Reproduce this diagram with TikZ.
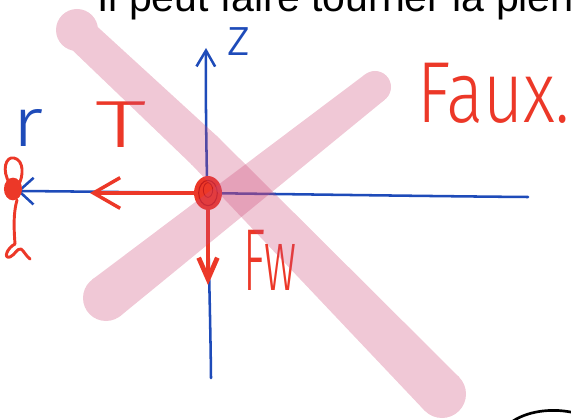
\documentclass[tikz,border=0pt]{standalone}
\usepackage{graphicx}
\usepackage{fontspec}
\setmainfont{Liberation Sans}
\newfontfamily\hand{Fira Sans}[UprightFont={* Light}]
\usetikzlibrary{arrows.meta,shapes.geometric}
\definecolor{hred}{RGB}{236,56,40}
\definecolor{hdark}{RGB}{196,28,28}
\definecolor{hblue}{RGB}{30,75,185}
\definecolor{xpink}{RGB}{205,72,118}
\begin{document}
\begin{tikzpicture}[x=0.75pt,y=-0.75pt,
  axis/.style={hblue, line width=1.9pt, line cap=round, line join=round},
  redline/.style={hred, line width=2.6pt, line cap=round, line join=round},
  scribble/.style={hred, line width=2.2pt, line cap=round, line join=round},
  handlabel/.style={inner sep=0pt, anchor=base},
  band/.style={fill=xpink},
  crossout/.style={transparency group, opacity=0.3},
]
\useasboundingbox (0,0) rectangle (571,420);
\clip (0,0) rectangle (571,420);

% title (cut by the top edge)
\node[inner sep=0pt, anchor=base west, font=\fontsize{30.75}{36}\selectfont] (title) at (97,12) {Il peut faire tourner la pierre};

% key points
\coordinate (O) at (208,193);
\coordinate (zb) at (211,378);
\coordinate (zt) at (206,48);
\coordinate (re) at (528,197);
\coordinate (rt) at (17,191);
\coordinate (Tt) at (90,193);
\coordinate (Ft) at (208,285);

% blue axes
\draw[axis, -{Straight Barb[length=12pt, width=14pt]}] (zb) .. controls (210,280) and (205,150) .. (zt);
\draw[axis, -{Straight Barb[length=11pt, width=20pt]}] (re) .. controls (400,196) and (150,192) .. (rt);

% red force arrows
\draw[redline, -{Straight Barb[length=20pt, width=23pt]}] (O) -- (Tt);
\draw[redline, line width=3.6pt, -{Straight Barb[length=16pt, width=14pt]}] (O) -- (Ft);

% centre blob
\node[ellipse, fill=hred, minimum width=21pt, minimum height=25.5pt, inner sep=0pt] (c) at (O) {};
\draw[hdark, line width=0.8pt] (O) ellipse[x radius=7pt, y radius=9.5pt];
\draw[hdark, line width=0.6pt] (208,190) ellipse[x radius=3.5pt, y radius=5.5pt];

% left scribble at the end of the r axis
\fill[hred] (13,189) ellipse[x radius=6.8pt, y radius=8.5pt];
\draw[scribble] (10,184) .. controls (1,170) and (6,156) .. (14,158) .. controls (24,160) and (24,176) .. (18,186);
\draw[scribble] (17,200) .. controls (13,214) and (14,230) .. (15,244);
\draw[scribble] (15,244) .. controls (7,248) and (3,259) .. (10,257) .. controls (15,255) and (17,248) .. (21,249) .. controls (24,251) and (26,256) .. (30,259);

% hand-written labels
\node[handlabel, hblue, font=\hand\fontsize{40}{42}\selectfont] (zl) at (239,56) {z};
\node[handlabel, hblue, font=\hand\fontsize{52}{54}\selectfont] (rl) at (28,147) {\scalebox{1.2}[1]{r}};
\node[handlabel, hred, font=\hand\fontsize{50}{52}\selectfont] (Tl) at (121,148) {\scalebox{1.55}[1]{T}};
\node[handlabel, hred, font=\hand\fontsize{66}{68}\selectfont] (Fl) at (270,291) {\scalebox{0.52}[1]{Fw}};
\node[inner sep=0pt, anchor=base west, hred, font=\hand\fontsize{65}{68}\selectfont] (faux) at (417,123) {\scalebox{0.8}[1]{Faux.}};

% pink cross-out strokes (tapered)
\begin{scope}[crossout]
  \fill[band] (77,30) circle[radius=15.75pt];
  \fill[band] (205,151) circle[radius=14.25pt];
  \fill[band] (442,394) circle[radius=18pt];
  \fill[band] (66.4,44.4) -- (192.0,164.9) -- (218.0,137.1) -- (89.6,19.6) -- cycle;
  \fill[band] (191.4,164.3) -- (424.8,410.8) -- (459.2,377.2) -- (218.6,137.7) -- cycle;
\end{scope}
\begin{scope}[crossout]
  \fill[band] (375,87) circle[radius=12pt];
  \fill[band] (106,298) circle[radius=17.25pt];
  \fill[band] (365.1,74.4) -- (91.8,279.9) -- (120.2,316.1) -- (384.9,99.6) -- cycle;
\end{scope}

% black stroke at the lower right corner
\draw[black, line width=2pt, line cap=round] (513,421) .. controls (530,410) and (555,408) .. (575,413);
\end{tikzpicture}
\end{document}
